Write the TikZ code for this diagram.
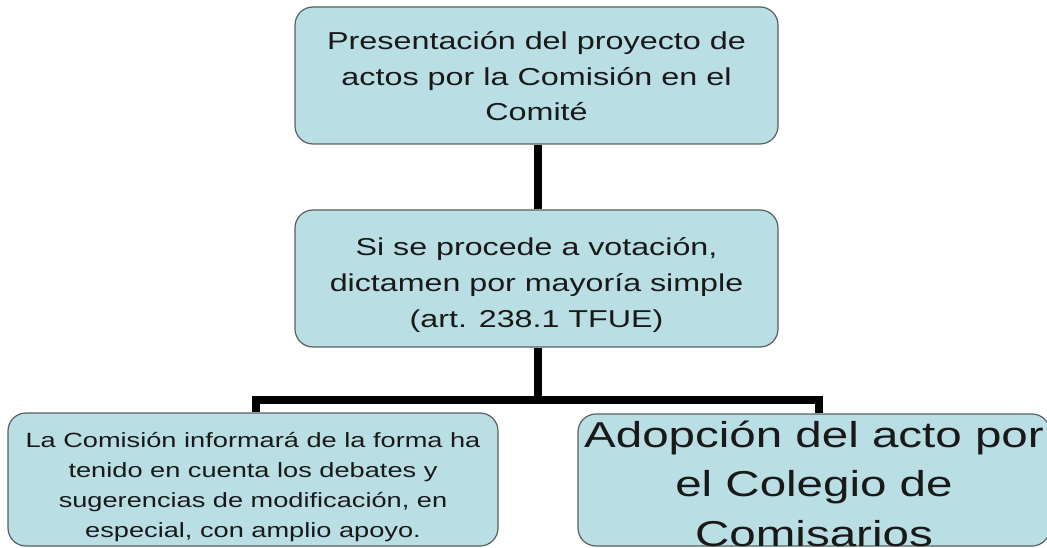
\documentclass[tikz,border=0pt]{standalone}
\usepackage{fontspec}
\setmainfont{Liberation Sans}[FakeStretch=1.32]
\usetikzlibrary{backgrounds}
\definecolor{boxfill}{HTML}{B9DEE3}
\definecolor{boxline}{HTML}{5A5F60}
\tikzset{
  boxnode/.style={draw=boxline, line width=1.2pt, fill=boxfill, rounded corners=18pt,
    align=center, inner sep=0pt, text=black!90},
  conn/.style={line width=8pt, black, line join=miter}
}
\begin{document}
\begin{tikzpicture}[x=1pt,y=-1pt]
\useasboundingbox (0,0) rectangle (1047,548);
\clip (0,0) rectangle (1047,548);
\node[boxnode, minimum width=483pt, minimum height=137pt, text height=114pt, text depth=23pt,
  font=\fontsize{24.5}{35.5}\selectfont] (top) at (536.5,75.5)
  {Presentación del proyecto de\\actos por la Comisión en el\\Comité};
\node[boxnode, minimum width=483pt, minimum height=137pt, text height=117pt, text depth=20pt,
  font=\fontsize{24.4}{36}\selectfont] (mid) at (536.5,278.5)
  {Si se procede a votación,\\dictamen por mayoría simple\\(art. 238.1 TFUE)};
\node[boxnode, minimum width=490pt, minimum height=133pt, text height=124pt, text depth=9pt,
  font=\fontsize{20.6}{29.7}\selectfont] (bl) at (253,479.5)
  {La Comisión informará de la forma ha\\tenido en cuenta los debates y\\sugerencias de modificación, en\\especial, con amplio apoyo.};
\node[boxnode, minimum width=472pt, minimum height=132pt, text height=132pt, text depth=0pt,
  font=\fontsize{36}{49.5}\selectfont] (br) at (814,480)
  {Adopción del acto por\\el Colegio de\\Comisarios};
\coordinate (j) at (538,400);
\begin{scope}[on background layer]
\draw[conn] ([xshift=1.5pt]top.south) -- ([xshift=1.5pt]mid.north);
\draw[conn] ([xshift=1.5pt]mid.south) -- (j);
\draw[conn] ([xshift=3pt]bl.north) |- (j) -| ([xshift=5pt]br.north);
\end{scope}
\end{tikzpicture}
\end{document}
